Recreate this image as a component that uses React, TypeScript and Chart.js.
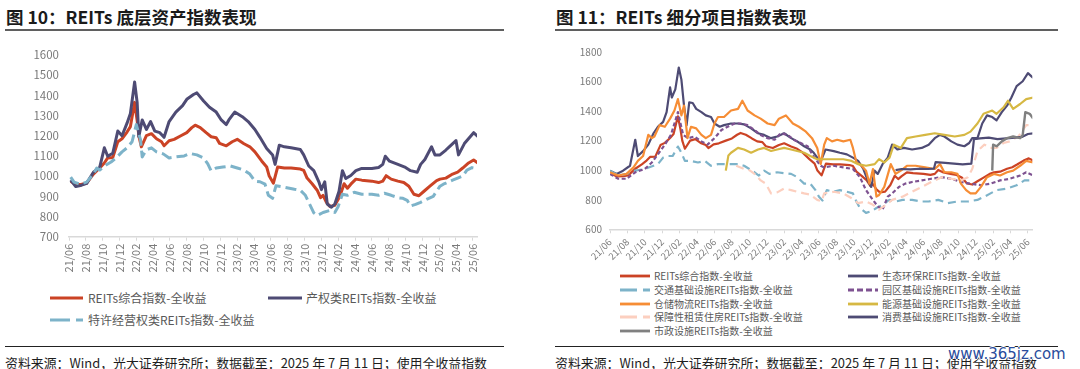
import React, { useEffect, useRef } from 'react';
import { Chart, registerables } from 'chart.js';

Chart.register(...registerables);

type Pt = [number, number];

// x = months since 2021/06, tick every 2 months
const xTickLabels = [
  '21/06', '21/08', '21/10', '21/12', '22/02', '22/04', '22/06', '22/08', '22/10', '22/12',
  '23/02', '23/04', '23/06', '23/08', '23/10', '23/12', '24/02', '24/04', '24/06', '24/08',
  '24/10', '24/12', '25/02', '25/04', '25/06',
];

const reitsComposite: Pt[] = [
  [0.2, 975], [0.8, 958], [1.5, 960], [2.1, 965], [2.9, 1010], [3.65, 1040], [4.2, 1065], [4.6, 1090],
  [5.2, 1092], [5.8, 1170], [6.3, 1185], [6.9, 1218], [7.3, 1245], [7.8, 1365], [8.1, 1275], [8.3, 1200],
  [8.6, 1145], [9.2, 1200], [9.8, 1210], [10.4, 1185], [11.0, 1170], [11.3, 1150], [11.9, 1175], [12.5, 1182],
  [13.3, 1200], [14.0, 1215], [14.6, 1240], [15.0, 1252], [15.6, 1240], [16.3, 1215], [16.9, 1195], [17.5, 1190],
  [17.9, 1162], [18.7, 1150], [19.4, 1170], [20.0, 1182], [20.8, 1160], [21.5, 1145], [22.1, 1120], [22.9, 1075],
  [23.5, 1045], [23.8, 1000], [24.3, 965], [24.8, 1045], [25.6, 1040], [26.4, 1040], [27.5, 1035], [27.9, 1028],
  [28.3, 990], [28.9, 962], [29.5, 930], [29.9, 893], [30.2, 905], [30.6, 870], [31.0, 850], [31.6, 855],
  [32.2, 900], [32.7, 962], [33.1, 940], [33.5, 960], [34.1, 985], [34.8, 980], [36.0, 975], [36.8, 968],
  [37.3, 975], [37.7, 1002], [38.3, 985], [39.1, 975], [39.8, 968], [40.4, 950], [41.0, 910], [41.6, 903],
  [42.2, 925], [42.9, 950], [43.7, 978], [44.1, 985], [44.8, 990], [45.6, 1010], [46.2, 1020], [46.8, 1040],
  [47.5, 1065], [48.1, 1080], [48.7, 1062],
];

const propertyRights: Pt[] = [
  [0.2, 980], [0.8, 948], [1.5, 955], [2.1, 964], [2.9, 1019], [3.65, 1043], [4.2, 1140], [4.6, 1098],
  [5.2, 1113], [5.8, 1223], [6.3, 1200], [6.9, 1262], [7.3, 1310], [7.8, 1466], [8.1, 1365], [8.3, 1195],
  [8.7, 1278], [9.2, 1231], [9.7, 1270], [10.2, 1223], [10.8, 1215], [11.3, 1192], [11.9, 1270], [12.7, 1317],
  [13.5, 1349], [14.0, 1380], [14.8, 1404], [15.2, 1412], [16.0, 1372], [16.7, 1341], [17.5, 1317], [18.1, 1278],
  [18.7, 1255], [19.0, 1278], [19.7, 1317], [20.6, 1294], [21.3, 1270], [22.1, 1231], [22.7, 1192], [23.5, 1137],
  [24.2, 1105], [24.5, 1058], [25.0, 1153], [25.6, 1145], [26.4, 1140], [27.5, 1132], [27.9, 1105], [28.5, 1050],
  [29.1, 1027], [29.7, 972], [30.0, 933], [30.4, 972], [30.7, 862], [31.2, 846], [31.6, 862], [32.1, 925],
  [32.5, 1027], [32.9, 988], [33.5, 1003], [34.1, 1027], [34.8, 1038], [36.0, 1038], [36.8, 1043], [37.3, 1058],
  [37.6, 1098], [38.1, 1074], [39.1, 1058], [40.0, 1043], [40.6, 1027], [41.4, 1019], [41.8, 1058], [42.3, 1082],
  [43.1, 1145], [43.5, 1105], [44.1, 1105], [44.8, 1129], [45.2, 1145], [46.0, 1176], [46.3, 1105], [47.0, 1161],
  [48.1, 1215], [48.7, 1192],
];

const franchise: Pt[] = [
  [0.2, 995], [0.6, 970], [1.3, 960], [2.1, 970], [2.9, 1010], [3.3, 1040], [3.65, 1030], [4.4, 1055],
  [5.0, 1070], [5.6, 1090], [6.3, 1120], [6.9, 1140], [7.5, 1170], [8.0, 1255], [8.5, 1180], [8.7, 1095],
  [9.2, 1130], [9.8, 1140], [10.4, 1120], [11.2, 1110], [11.9, 1090], [12.7, 1095], [13.7, 1100], [14.4, 1112],
  [15.2, 1105], [16.0, 1090], [16.5, 1060], [16.9, 1025], [17.5, 1040], [18.3, 1045], [19.2, 1050], [20.0, 1040],
  [20.8, 1030], [21.5, 1010], [22.1, 975], [22.7, 972], [23.3, 960], [23.7, 905], [24.2, 890], [24.6, 952],
  [25.6, 945], [26.8, 935], [27.5, 930], [28.1, 905], [28.5, 870], [29.1, 818], [29.5, 805], [30.2, 820],
  [31.0, 830], [31.6, 820], [32.0, 850], [32.5, 910], [33.1, 905], [33.9, 920], [34.8, 910], [36.0, 910],
  [36.8, 905], [37.5, 915], [38.3, 905], [39.1, 893], [39.7, 890], [40.2, 880], [40.6, 852], [41.2, 860],
  [41.8, 870], [42.5, 885], [43.3, 900], [44.1, 950], [44.5, 960], [44.8, 965], [45.6, 980], [46.2, 990],
  [46.8, 1000], [47.3, 1030], [47.9, 1042], [48.7, 1035],
];

const ecoEnv: Pt[] = [
  [0, 997], [0.76, 975], [1.5, 997], [2.3, 1030], [2.9, 1206], [3.2, 1096], [3.8, 1129], [4.4, 1173],
  [5.0, 1250], [5.5, 1294], [6.1, 1327], [6.5, 1393], [6.9, 1560], [7.1, 1492], [7.5, 1547], [7.9, 1695],
  [8.2, 1613], [8.5, 1437], [8.8, 1305], [9.1, 1459], [9.5, 1455], [9.9, 1415], [10.5, 1393], [11.0, 1371],
  [11.6, 1360], [12.0, 1316], [12.6, 1294], [13.1, 1305], [13.9, 1316], [14.7, 1316], [15.4, 1310], [16.2, 1283],
  [17.0, 1250], [17.7, 1239], [18.5, 1217], [19.2, 1228], [20.0, 1250], [20.8, 1217], [21.5, 1195], [22.3, 1162],
  [23.0, 1140], [23.4, 1118], [23.8, 1085], [24.2, 1060], [24.75, 1140], [25.7, 1129], [26.4, 1118], [27.2, 1107],
  [27.9, 1085], [28.5, 1063], [29.1, 1008], [29.6, 931], [30.0, 887], [30.4, 997], [30.75, 975], [31.3, 1041],
  [31.9, 1085], [32.4, 1173], [33.0, 1140], [33.75, 1151], [34.7, 1140], [35.8, 1151], [36.6, 1173], [37.3, 1217],
  [37.9, 1239], [38.4, 1228], [39.2, 1195], [39.9, 1173], [40.7, 1162], [41.25, 1184], [41.6, 1217], [42.2, 1217],
  [42.75, 1316], [43.3, 1371], [43.9, 1360], [44.4, 1338], [45.0, 1393], [45.6, 1437], [46.1, 1492], [46.7, 1569],
  [47.4, 1602], [48.0, 1657], [48.6, 1624],
];

const transport: Pt[] = [
  [0, 997], [0.95, 964], [1.9, 975], [2.9, 997], [4.0, 1008], [5.0, 1030], [5.5, 1041], [6.1, 1085],
  [6.7, 1096], [7.2, 1096], [7.8, 1160], [8.2, 1118], [8.6, 1063], [9.3, 1063], [10.1, 1052], [10.9, 1063],
  [11.6, 1030], [12.4, 1041], [13.1, 1041], [13.9, 1041], [14.7, 1041], [15.4, 1030], [16.0, 1008], [16.6, 986],
  [17.1, 964], [17.7, 997], [18.3, 975], [19.2, 986], [20.0, 980], [20.8, 975], [21.5, 953], [22.3, 909],
  [23.0, 909], [23.6, 865], [24.0, 820], [24.4, 795], [24.9, 865], [25.7, 854], [26.4, 865], [27.2, 854],
  [27.9, 843], [28.3, 788], [28.7, 744], [29.4, 711], [30.0, 722], [30.6, 744], [31.3, 766], [32.1, 799],
  [32.8, 788], [33.6, 799], [34.7, 799], [35.8, 788], [36.6, 788], [37.7, 799], [38.8, 777], [39.9, 788],
  [41.1, 788], [42.2, 799], [43.0, 821], [43.7, 843], [44.4, 865], [45.6, 876], [46.7, 898], [47.6, 931],
  [48.6, 931],
];

const industrialPark: Pt[] = [
  [0, 975], [0.95, 942], [1.9, 942], [2.9, 986], [4.0, 1008], [4.8, 1052], [5.5, 1107], [6.3, 1173],
  [7.0, 1239], [7.8, 1393], [8.4, 1239], [9.0, 1217], [9.7, 1228], [10.5, 1195], [11.2, 1173], [12.0, 1217],
  [12.8, 1272], [13.5, 1294], [14.3, 1316], [15.0, 1316], [15.8, 1305], [16.6, 1272], [17.3, 1239], [18.1, 1217],
  [18.9, 1206], [19.6, 1250], [20.4, 1239], [21.1, 1206], [21.9, 1184], [22.7, 1162], [23.4, 1090], [24.2, 1030],
  [24.6, 1019], [25.7, 1030], [26.8, 1019], [27.9, 1008], [28.7, 953], [29.4, 865], [30.2, 799], [30.75, 755],
  [31.3, 733], [31.9, 821], [32.4, 843], [33.2, 887], [33.9, 909], [34.7, 920], [35.8, 931], [36.9, 942],
  [38.1, 953], [39.2, 942], [40.3, 920], [41.4, 909], [42.6, 898], [43.7, 909], [44.8, 931], [45.9, 942],
  [47.1, 964], [47.8, 986], [48.6, 964],
];

const warehouse: Pt[] = [
  [0, 986], [0.95, 964], [1.9, 975], [2.7, 1019], [3.2, 1063], [3.8, 1096], [4.4, 1239], [4.8, 1217],
  [5.1, 1228], [5.7, 1305], [6.3, 1294], [6.9, 1349], [7.4, 1404], [7.8, 1481], [8.2, 1371], [8.5, 1437],
  [8.9, 1217], [9.3, 1294], [9.9, 1283], [10.5, 1239], [11.0, 1217], [11.6, 1239], [12.0, 1316], [12.4, 1360],
  [13.1, 1360], [13.9, 1404], [14.7, 1415], [15.2, 1470], [15.8, 1404], [16.6, 1371], [17.3, 1349], [18.1, 1316],
  [18.9, 1305], [19.4, 1349], [20.2, 1371], [21.0, 1316], [21.7, 1294], [22.5, 1261], [23.2, 1217], [23.8, 1150],
  [24.2, 1041], [24.6, 1173], [24.9, 1217], [25.5, 1195], [26.1, 1206], [26.8, 1195], [27.6, 1206], [27.9, 1151],
  [28.3, 1052], [28.9, 1030], [29.4, 997], [29.8, 909], [30.2, 1008], [30.6, 821], [30.9, 832], [31.5, 887],
  [32.25, 1041], [32.8, 975], [33.4, 997], [34.1, 1030], [35.1, 1030], [36.2, 1019], [37.3, 1008], [37.9, 1041],
  [38.4, 986], [39.2, 986], [39.9, 975], [40.3, 909], [40.9, 865], [41.4, 843], [42.0, 843], [42.6, 887],
  [43.3, 953], [44.1, 975], [44.8, 964], [45.6, 986], [46.3, 997], [47.1, 1030], [47.8, 1063], [48.6, 1052],
];

const energy: Pt[] = [
  [13.3, 997], [13.6, 1100], [13.9, 1118], [14.7, 1151], [15.4, 1140], [16.2, 1118], [17.0, 1140], [17.7, 1151],
  [18.5, 1130], [19.2, 1140], [20.0, 1151], [20.8, 1140], [21.5, 1130], [22.3, 1118], [23.0, 1096], [23.8, 1074],
  [24.6, 1074], [25.7, 1074], [26.8, 1074], [27.75, 1063], [28.5, 1041], [29.4, 1030], [30.4, 1041], [30.9, 1075],
  [31.5, 1052], [32.1, 1085], [32.6, 1173], [33.4, 1151], [34.1, 1217], [35.1, 1228], [36.2, 1239], [37.3, 1250],
  [38.4, 1239], [39.6, 1228], [40.7, 1239], [41.4, 1261], [42.2, 1316], [42.9, 1382], [43.9, 1404], [44.4, 1382],
  [45.2, 1426], [45.7, 1470], [46.3, 1415], [47.1, 1448], [47.8, 1481], [48.6, 1492],
];

const rentalHousing: Pt[] = [
  [14.5, 1030], [15.4, 1008], [16.0, 1000], [16.6, 975], [17.3, 931], [17.9, 909], [18.5, 843], [19.2, 850],
  [20.0, 876], [20.8, 865], [21.5, 854], [22.3, 843], [23.0, 835], [23.8, 799], [24.3, 790], [24.6, 843],
  [25.7, 854], [26.8, 843], [27.75, 810], [28.5, 777], [29.4, 788], [30.2, 766], [30.9, 733], [31.7, 766],
  [32.4, 799], [33.6, 821], [34.7, 854], [35.8, 887], [36.9, 920], [38.1, 953], [39.2, 942], [40.3, 931],
  [41.1, 953], [41.6, 1008], [42.2, 1129], [43.0, 1173], [43.7, 1151], [44.4, 1151], [45.2, 1184], [45.9, 1195],
  [46.9, 1228], [47.8, 1305], [48.6, 1305],
];

const consumer: Pt[] = [
  [32.8, 1000], [33.5, 1008], [34.5, 1005], [35.5, 1010], [36.5, 1008], [37.2, 1010], [37.4, 1055], [38.5, 1050],
  [39.5, 1045], [40.5, 1040], [41.5, 1045], [41.8, 1210], [42.5, 1215], [43.5, 1220], [44.5, 1210], [45.5, 1215],
  [46.5, 1220], [47.3, 1225], [48.0, 1245], [48.6, 1250],
];

const municipal: Pt[] = [
  [43.9, 997], [44.0, 1173], [44.4, 1162], [45.0, 1195], [45.6, 1217], [46.3, 1228], [47.1, 1217], [47.4, 1239],
  [47.7, 1393], [48.2, 1382], [48.6, 1349],
];

interface SeriesDef {
  label: string;
  data: Pt[];
  color: string;
  width: number;
  dash: number[];
  legendDash: string;
}

const NAVY = '#4E4B74';
const RED = '#CB4325';
const TEAL = '#7DB3C9';

const leftSeries: SeriesDef[] = [
  { label: 'REITs综合指数-全收益', data: reitsComposite, color: RED, width: 3, dash: [], legendDash: '' },
  { label: '产权类REITs指数-全收益', data: propertyRights, color: NAVY, width: 3, dash: [], legendDash: '' },
  { label: '特许经营权类REITs指数-全收益', data: franchise, color: TEAL, width: 3, dash: [11, 5], legendDash: '20 6' },
];

const rightSeries: SeriesDef[] = [
  { label: 'REITs综合指数-全收益', data: reitsComposite, color: RED, width: 2.2, dash: [], legendDash: '' },
  { label: '生态环保REITs指数-全收益', data: ecoEnv, color: NAVY, width: 2.2, dash: [], legendDash: '' },
  { label: '交通基础设施REITs指数-全收益', data: transport, color: TEAL, width: 2.2, dash: [8, 5], legendDash: '17 6' },
  { label: '园区基础设施REITs指数-全收益', data: industrialPark, color: '#7E5291', width: 2.2, dash: [4, 2.5], legendDash: '6 3' },
  { label: '仓储物流REITs指数-全收益', data: warehouse, color: '#F68D35', width: 2.2, dash: [], legendDash: '' },
  { label: '能源基础设施REITs指数-全收益', data: energy, color: '#D6B843', width: 2.2, dash: [], legendDash: '' },
  { label: '保障性租赁住房REITs指数-全收益', data: rentalHousing, color: '#FCCFBF', width: 2.2, dash: [8, 5], legendDash: '17 6' },
  { label: '消费基础设施REITs指数-全收益', data: consumer, color: NAVY, width: 2.2, dash: [], legendDash: '' },
  { label: '市政设施REITs指数-全收益', data: municipal, color: '#808080', width: 2.4, dash: [], legendDash: '' },
];

const FONT = '"Noto Sans CJK SC", "Noto Sans", sans-serif';

interface ChartCfg {
  yMin: number;
  yMax: number;
  yStep: number;
  yWidth: number;
  xHeight: number;
  padding: { top: number; right: number; bottom: number; left: number };
  rotation: number;
  fontSize: number;
  yPad: number;
}

function buildChart(canvas: HTMLCanvasElement, series: SeriesDef[], cfg: ChartCfg) {
  return new Chart(canvas, {
    type: 'line',
    data: {
      datasets: series.map((s, i) => ({
        label: s.label,
        data: s.data.map(([x, y]) => ({ x, y })),
        borderColor: s.color,
        backgroundColor: s.color,
        borderWidth: s.width,
        borderDash: s.dash,
        pointRadius: 0,
        tension: 0,
        fill: false,
        borderJoinStyle: 'round',
        order: -i,
      })),
    },
    options: {
      responsive: false,
      maintainAspectRatio: false,
      animation: false,
      layout: { padding: cfg.padding },
      plugins: { legend: { display: false }, tooltip: { enabled: false } },
      scales: {
        x: {
          type: 'linear',
          min: 0,
          max: 48.5,
          afterFit: (s: any) => { s.height = cfg.xHeight; },
          grid: { display: true, drawOnChartArea: false, drawTicks: true, tickLength: 4, color: '#D9D9D9', lineWidth: 1 },
          border: { display: true, color: '#D9D9D9', width: 1.5 },
          ticks: {
            stepSize: 2,
            includeBounds: false,
            autoSkip: false,
            maxRotation: cfg.rotation,
            minRotation: cfg.rotation,
            padding: 3,
            color: '#7A7A7A',
            font: { family: FONT, size: cfg.fontSize },
            callback: (v: any) => xTickLabels[Math.round(Number(v) / 2)] ?? '',
          },
        },
        y: {
          min: cfg.yMin,
          max: cfg.yMax,
          afterFit: (s: any) => { s.width = cfg.yWidth; },
          grid: { display: false, drawTicks: false },
          border: { display: false },
          ticks: {
            stepSize: cfg.yStep,
            padding: cfg.yPad,
            color: '#7A7A7A',
            font: { family: FONT, size: cfg.fontSize + 0.5 },
            callback: (v: any) => String(v),
          },
        },
      },
    },
  } as any);
}

function LegendItem({ s, x, y, lineW, textX, fontSize, strokeW }: { s: SeriesDef; x: number; y: number; lineW: number; textX: number; fontSize: number; strokeW: number }) {
  return (
    <>
      <svg style={{ position: 'absolute', left: x, top: y - 4 }} width={lineW} height={8}>
        <line x1={0} y1={4} x2={lineW} y2={4} stroke={s.color} strokeWidth={strokeW} strokeDasharray={s.legendDash || undefined} />
      </svg>
      <div style={{ position: 'absolute', left: textX, top: y - fontSize * 0.7, fontSize, lineHeight: `${fontSize * 1.4}px`, color: '#595959', whiteSpace: 'nowrap', fontFamily: FONT }}>
        {s.label}
      </div>
    </>
  );
}

const footerText = '资料来源：Wind，光大证券研究所；数据截至：2025 年 7 月 11 日；使用全收益指数';

export default function App() {
  const leftRef = useRef<HTMLCanvasElement>(null);
  const rightRef = useRef<HTMLCanvasElement>(null);

  useEffect(() => {
    const c1 = buildChart(leftRef.current!, leftSeries, {
      yMin: 700, yMax: 1600, yStep: 100, yWidth: 69, xHeight: 46.3,
      padding: { top: 7, right: 23, bottom: 0, left: 0 }, rotation: 90, fontSize: 11, yPad: 10,
    });
    const c2 = buildChart(rightRef.current!, rightSeries, {
      yMin: 600, yMax: 1800, yStep: 200, yWidth: 65, xHeight: 33.7,
      padding: { top: 7.7, right: 12.7, bottom: 0, left: 0 }, rotation: 45, fontSize: 9.5, yPad: 8,
    });
    return () => { c1.destroy(); c2.destroy(); };
  }, []);

  const titleStyle: React.CSSProperties = {
    position: 'absolute', top: 5, fontSize: 17.5, fontWeight: 700, color: '#1A1A1A',
    fontFamily: FONT, whiteSpace: 'nowrap', lineHeight: '24px',
  };
  const footStyle: React.CSSProperties = {
    position: 'absolute', top: 354, fontSize: 12.9, color: '#1E1E1E', fontFamily: FONT,
    whiteSpace: 'nowrap', lineHeight: '17px',
  };

  const rowsY = [276, 290, 303.5, 317, 330.5];
  const col1 = [rightSeries[0], rightSeries[2], rightSeries[4], rightSeries[6], rightSeries[8]];
  const col2 = [rightSeries[1], rightSeries[3], rightSeries[5], rightSeries[7]];

  return (
    <div style={{ position: 'absolute', left: 0, top: 0, width: 1080, height: 369, background: '#fff', overflow: 'hidden', fontFamily: FONT }}>
      {/* left panel */}
      <div style={{ ...titleStyle, left: 6 }}>图 10：REITs 底层资产指数表现</div>
      <div style={{ position: 'absolute', left: 5, top: 28.5, width: 499, height: 2, background: '#5F5F5F' }} />
      <canvas ref={leftRef} width={500} height={245} style={{ position: 'absolute', left: 0, top: 38, width: 500, height: 245 }} />
      <LegendItem s={leftSeries[0]} x={50} y={298} lineW={33} textX={88} fontSize={12} strokeW={3} />
      <LegendItem s={leftSeries[1]} x={268} y={298} lineW={34} textX={306} fontSize={12} strokeW={3} />
      <LegendItem s={leftSeries[2]} x={50} y={320} lineW={33} textX={88} fontSize={12} strokeW={3} />
      <div style={{ position: 'absolute', left: 5, top: 346, width: 499, height: 1.2, background: '#222' }} />
      <div style={{ ...footStyle, left: 5 }}>{footerText}</div>

      {/* right panel */}
      <div style={{ ...titleStyle, left: 556 }}>图 11：REITs 细分项目指数表现</div>
      <div style={{ position: 'absolute', left: 555, top: 28.5, width: 503, height: 2, background: '#5F5F5F' }} />
      <canvas ref={rightRef} width={500} height={225} style={{ position: 'absolute', left: 545, top: 38, width: 500, height: 225 }} />
      {col1.map((s, i) => (
        <LegendItem key={s.label} s={s} x={620} y={rowsY[i]} lineW={30} textX={654} fontSize={10} strokeW={2.8} />
      ))}
      {col2.map((s, i) => (
        <LegendItem key={s.label} s={s} x={848} y={rowsY[i]} lineW={30} textX={882} fontSize={10} strokeW={2.8} />
      ))}
      <div style={{ position: 'absolute', left: 555, top: 346, width: 503, height: 1.2, background: '#222' }} />
      <div style={{ ...footStyle, left: 555 }}>{footerText}</div>
      <div style={{
        position: 'absolute', left: 948, top: 345, fontSize: 15, color: '#2A4C9C', fontFamily: '"DejaVu Sans", sans-serif',
        whiteSpace: 'nowrap', lineHeight: '18px',
        textShadow: '1px 0 0 #fff, -1px 0 0 #fff, 0 1px 0 #fff, 0 -1px 0 #fff',
      }}>www.365jz.com</div>
    </div>
  );
}
